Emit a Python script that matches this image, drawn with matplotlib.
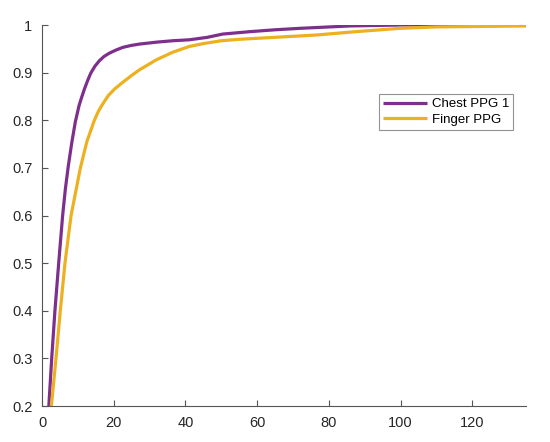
import matplotlib
matplotlib.use("Agg")
import matplotlib.pyplot as plt

plt.rcParams['font.family'] = ['Liberation Sans', 'DejaVu Sans']

chest_x = [1.9, 2.7, 3.6, 4.65, 5.75, 6.5, 7.35, 8.3, 9.3, 10.3, 11.0, 11.8, 12.7, 13.6, 14.8, 16.0, 17.3, 18.8, 20.5, 22.5, 24.8, 27.2, 31.9, 36.5, 41.1, 46.0, 50.4, 57.9, 65.0, 71.8, 85.8, 100.0, 135.0]
chest_y = [0.20, 0.30, 0.40, 0.50, 0.60, 0.655, 0.705, 0.753, 0.797, 0.830, 0.847, 0.865, 0.883, 0.899, 0.914, 0.925, 0.934, 0.941, 0.947, 0.953, 0.957, 0.960, 0.964, 0.967, 0.969, 0.974, 0.981, 0.986, 0.990, 0.993, 0.998, 1.0, 1.0]

finger_x = [2.6, 3.9, 5.1, 6.4, 8.1, 10.7, 12.5, 14.6, 15.8, 17.0, 18.5, 20.3, 22.4, 24.8, 27.2, 31.9, 36.5, 41.1, 45.0, 50.0, 55.0, 67.0, 76.5, 85.8, 99.7, 110.0, 135.0]
finger_y = [0.20, 0.30, 0.40, 0.50, 0.60, 0.70, 0.755, 0.80, 0.82, 0.835, 0.852, 0.866, 0.879, 0.893, 0.906, 0.927, 0.943, 0.955, 0.961, 0.967, 0.970, 0.975, 0.979, 0.985, 0.993, 0.996, 0.998]

x_ticks = [0, 20, 40, 60, 80, 100, 120]
y_ticks = [0.2, 0.3, 0.4, 0.5, 0.6, 0.7, 0.8, 0.9, 1.0]
y_labels = ['0.2', '0.3', '0.4', '0.5', '0.6', '0.7', '0.8', '0.9', '1']
series_names = ['Chest PPG 1', 'Finger PPG']

fig = plt.figure(figsize=(5.5, 4.42), dpi=100)
ax = fig.add_axes([0.0764, 0.0814, 0.8800, 0.8620])

ax.plot(chest_x, chest_y, color='#7E2F8E', lw=2.3, label=series_names[0],
        solid_capstyle='butt', solid_joinstyle='round')
ax.plot(finger_x, finger_y, color='#EDB120', lw=2.3, label=series_names[1],
        solid_capstyle='butt', solid_joinstyle='round')

ax.set_xlim(0, 135)
ax.set_ylim(0.2, 1.0)
ax.set_xticks(x_ticks)
ax.set_yticks(y_ticks)
ax.set_yticklabels(y_labels)

for s in ['top', 'right']:
    ax.spines[s].set_visible(False)
for s in ['left', 'bottom']:
    ax.spines[s].set_color('#555555')
    ax.spines[s].set_linewidth(0.8)
ax.tick_params(direction='in', length=4, width=0.8, color='#555555',
               labelcolor='#262626', labelsize=10.5, pad=7)

leg = ax.legend(loc='upper right', bbox_to_anchor=(0.933, 0.787),
                bbox_transform=fig.transFigure, fontsize=9.5, frameon=True,
                fancybox=False, handlelength=3.3, handletextpad=0.4,
                borderpad=0.3, labelspacing=0.25, borderaxespad=0)
leg.get_frame().set_edgecolor('#777777')
leg.get_frame().set_linewidth(0.8)

fig.savefig('out.png', dpi=100)
